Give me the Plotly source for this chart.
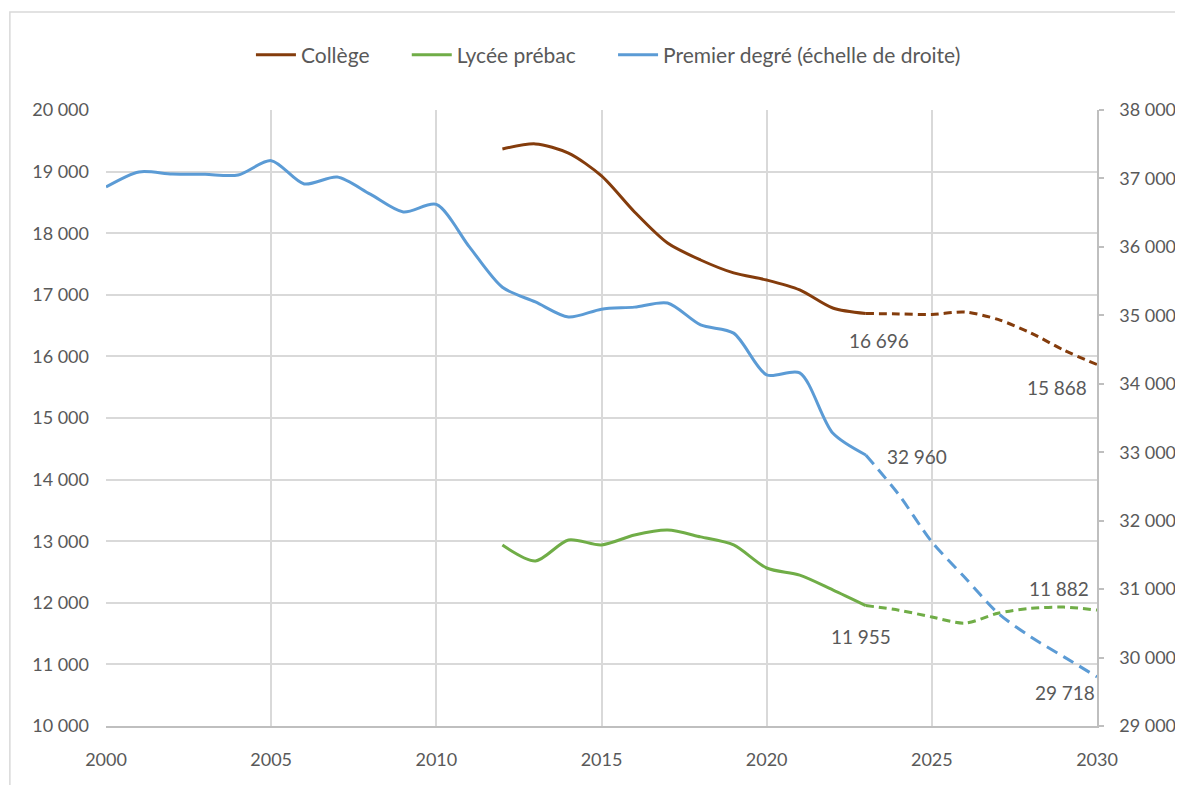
import plotly.graph_objects as go

# ---- data ----
years_pd = list(range(2000, 2031))
premier_degre = [36875, 37095, 37065, 37060, 37050, 37260, 36920, 37020, 36770, 36510,
                 36620, 36000, 35410, 35195, 34975, 35090, 35120, 35180, 34860, 34740,
                 34130, 34160, 33280, 32960, 32380, 31690, 31170, 30650, 30300, 30010, 29718]

years_sec = list(range(2012, 2031))
college = [19367, 19450, 19300, 18930, 18345, 17840, 17565, 17355, 17240, 17080,
           16785, 16696, 16690, 16680, 16720, 16600, 16380, 16100, 15868]
lycee = [12938, 12680, 13020, 12940, 13100, 13180, 13070, 12940, 12565, 12450,
         12210, 11955, 11880, 11770, 11670, 11830, 11910, 11930, 11882]

last_obs_year = 2023

left_ticks = list(range(10000, 20001, 1000))
right_ticks = list(range(29000, 38001, 1000))
x_ticks = list(range(2000, 2031, 5))


def fmt(v):
    return f"{v:,}".replace(",", "\u202f")


FONT = "Lato, Open Sans, sans-serif"
FS = 18
GRAY = "#595959"
C_BROWN = "#843C0C"
C_GREEN = "#70AD47"
C_BLUE = "#5B9BD5"
NB = "\u00a0"

fig = go.Figure()


def add_series(xs, ys, name, color, yaxis, dash):
    xa = [x for x in xs if x <= last_obs_year]
    ya = [y for x, y in zip(xs, ys) if x <= last_obs_year]
    xb = [x for x in xs if x >= last_obs_year]
    yb = [y for x, y in zip(xs, ys) if x >= last_obs_year]
    fig.add_trace(go.Scatter(x=xa, y=ya, name=name, mode="lines", yaxis=yaxis,
                             line=dict(color=color, width=3, shape="spline", smoothing=0.8)))
    fig.add_trace(go.Scatter(x=xb, y=yb, name=name, mode="lines", yaxis=yaxis, showlegend=False,
                             line=dict(color=color, width=3, shape="spline", smoothing=0.8, dash=dash)))


add_series(years_sec, college, "Collège" + NB * 6, C_BROWN, "y", "8px,5px")
add_series(years_sec, lycee, "Lycée prébac" + NB * 6, C_GREEN, "y", "8px,5px")
add_series(years_pd, premier_degre, "Premier degré (échelle de droite)", C_BLUE, "y2", "12px,7px")

# ---- annotations (anchored on data points) ----
def val(xs, ys, yr):
    return ys[xs.index(yr)]

ann = [
    (2023, val(years_sec, college, 2023), "y", 13, -27),
    (2030, val(years_sec, college, 2030), "y", -40, -23),
    (2023, val(years_pd, premier_degre, 2023), "y2", 51, -2),
    (2023, val(years_sec, lycee, 2023), "y", -5, -31),
    (2030, val(years_sec, lycee, 2030), "y", -38, 22),
    (2030, val(years_pd, premier_degre, 2030), "y2", -32, -16),
]
for x, y, yref, xs_, ys_ in ann:
    fig.add_annotation(x=x, y=y, xref="x", yref=yref, text=fmt(y), showarrow=False,
                       xshift=xs_, yshift=ys_, font=dict(family=FONT, size=19, color=GRAY))

# outer chart border
fig.add_shape(type="rect", xref="paper", yref="paper", x0=-0.097, x1=1.2, y0=-0.2, y1=1.159,
              line=dict(color="#d9d9d9", width=1.5), fillcolor="rgba(0,0,0,0)", layer="below")

fig.update_layout(
    width=1175, height=777,
    margin=dict(l=98, r=86, t=102, b=59, autoexpand=False),
    paper_bgcolor="white", plot_bgcolor="white",
    font=dict(family=FONT, size=FS, color=GRAY),
    legend=dict(orientation="h", x=0.507, xanchor="center", y=1.089, yanchor="middle",
                font=dict(family=FONT, size=21, color=GRAY), itemwidth=40),
    xaxis=dict(range=[2000, 2030], tickvals=x_ticks, ticktext=[str(v) for v in x_ticks],
               showgrid=True, gridcolor="#d9d9d9", gridwidth=1.5, zeroline=False, automargin=False,
               showline=True, linecolor="#bfbfbf", linewidth=1.5, ticks="", ticklabelstandoff=17),
    yaxis=dict(range=[10000, 20000], tickvals=left_ticks, ticktext=[fmt(v) for v in left_ticks],
               showgrid=True, gridcolor="#d9d9d9", gridwidth=1.5, zeroline=False, automargin=False,
               showline=False, ticks="", ticklabelstandoff=16),
    yaxis2=dict(range=[29000, 38000], tickvals=right_ticks, ticktext=[fmt(v) for v in right_ticks],
                overlaying="y", side="right", showgrid=False, zeroline=False, automargin=False,
                showline=True, linecolor="#bfbfbf", linewidth=1.5,
                ticks="outside", ticklen=5, tickcolor="#bfbfbf", tickwidth=1.5, ticklabelstandoff=12),
)

fig.write_html("out.html")
